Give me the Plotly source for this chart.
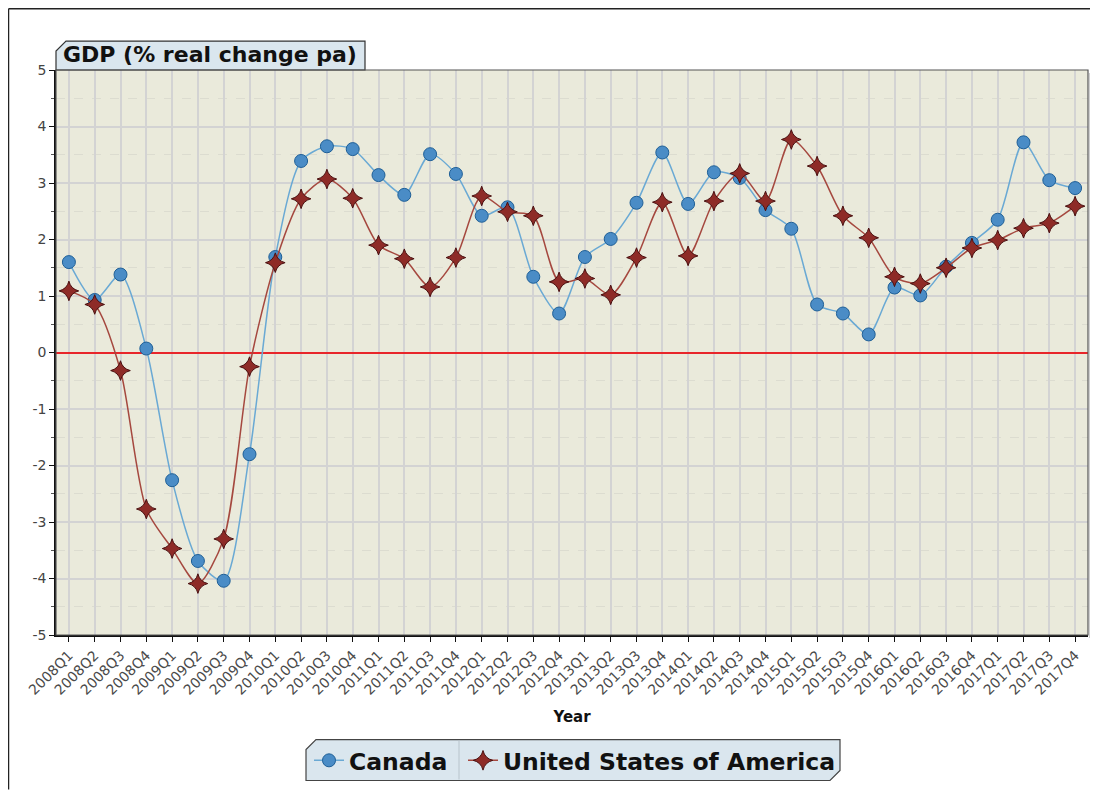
import plotly.graph_objects as go

quarters = [f"{y}Q{q}" for y in range(2008, 2018) for q in range(1, 5)]

canada = [1.60, 0.93, 1.38, 0.07, -2.26, -3.69, -4.04, -1.80,
          1.69, 3.39, 3.65, 3.60, 3.14, 2.79, 3.51, 3.16,
          2.42, 2.57, 1.34, 0.69, 1.69, 2.01, 2.65, 3.54,
          2.63, 3.19, 3.09, 2.52, 2.19, 0.85, 0.69, 0.32,
          1.15, 1.01, 1.52, 1.94, 2.35, 3.72, 3.05, 2.91]

usa = [1.09, 0.85, -0.32, -2.77, -3.47, -4.09, -3.30, -0.25,
       1.59, 2.72, 3.07, 2.73, 1.90, 1.66, 1.16, 1.68,
       2.77, 2.49, 2.42, 1.25, 1.31, 1.02, 1.68, 2.66,
       1.71, 2.68, 3.17, 2.68, 3.77, 3.30, 2.42, 2.03,
       1.34, 1.22, 1.50, 1.85, 1.99, 2.20, 2.29, 2.59]

series_names = ["Canada", "United States of America"]
y_ticks = [5, 4, 3, 2, 1, 0, -1, -2, -3, -4, -5]

OFF = 8  # page body margin
W, H = 1098 - OFF, 792 - OFF
L, R, T, B = 56 - OFF, 1088 - OFF, 70 - OFF, 637 - OFF
PW, PH = R - L, B - T


def px(x):
    """screen x pixel -> paper coordinate"""
    return (x - OFF - L) / PW


def py(y):
    """screen y pixel -> paper coordinate"""
    return (B - (y - OFF)) / PH


fig = go.Figure()
fig.add_trace(go.Scatter(
    x=quarters, y=canada, name=series_names[0], mode="lines+markers",
    line=dict(color="#6aa9d4", width=1.5, shape="spline", smoothing=0.75),
    marker=dict(symbol="circle", size=13, color="#4a8cc6",
                line=dict(color="#1f5f96", width=1)),
    legend="legend",
))
fig.add_trace(go.Scatter(
    x=quarters, y=usa, name=series_names[1], mode="lines+markers",
    line=dict(color="#a5483f", width=1.5, shape="spline", smoothing=0.75),
    marker=dict(symbol="star-diamond", size=14, color="#8e2b27",
                line=dict(color="#4a1010", width=1)),
    legend="legend2",
))

shapes = []
# outer frame (top and left)
shapes.append(dict(type="line", xref="paper", yref="paper",
                   x0=px(8.5), x1=px(1097), y0=py(8.5), y1=py(8.5),
                   line=dict(color="#222", width=1.5)))
shapes.append(dict(type="line", xref="paper", yref="paper",
                   x0=px(8.5), x1=px(8.5), y0=py(8.5), y1=py(792),
                   line=dict(color="#222", width=1.5)))
# soft shadow right/bottom of plot area
shapes.append(dict(type="line", xref="paper", yref="paper",
                   x0=px(1090.5), x1=px(1090.5), y0=py(73), y1=py(640),
                   line=dict(color="#cfcfcf", width=3)))
# title tab
tx0, tx1, ty0, ty1, c = 56, 365, 70, 41, 10
path = (f"M {px(tx0)} {py(ty0)} L {px(tx0)} {py(ty1 + c)} L {px(tx0 + c)} {py(ty1)} "
        f"L {px(tx1)} {py(ty1)} L {px(tx1)} {py(ty0)} Z")
shapes.append(dict(type="path", xref="paper", yref="paper", path=path,
                   fillcolor="#dae6ee", line=dict(color="#333", width=1.2)))
# legend box
lx0, lx1, ly0, ly1, c2 = 306, 840, 742, 783, 10
path2 = (f"M {px(lx0)} {py(ly1)} L {px(lx0)} {py(ly0 + c2)} L {px(lx0 + c2)} {py(ly0)} "
         f"L {px(lx1)} {py(ly0)} L {px(lx1)} {py(ly1 - c2)} L {px(lx1 - c2)} {py(ly1)} Z")
shapes.append(dict(type="path", xref="paper", yref="paper", path=path2,
                   fillcolor="#dae6ee", line=dict(color="#444", width=1.2)))
shapes.append(dict(type="line", xref="paper", yref="paper",
                   x0=px(459), x1=px(459), y0=py(743), y1=py(782),
                   line=dict(color="#b8c4cc", width=1)))

annotations = [
    dict(text="<b>GDP (% real change pa)</b>", xref="paper", yref="paper",
         x=px(61), y=py(54), xanchor="left", yanchor="middle", showarrow=False,
         font=dict(family="DejaVu Sans", size=22, color="#111")),
]

legend_font = dict(family="DejaVu Sans", size=23.5, color="#111", weight="bold")
fig.update_layout(
    width=W, height=H,
    margin=dict(l=L, r=W - R, t=T, b=H - B),
    paper_bgcolor="white",
    plot_bgcolor="#eaeadb",
    shapes=shapes,
    annotations=annotations,
    showlegend=True,
    legend=dict(orientation="h", x=px(309), y=py(763), xanchor="left", yanchor="middle",
                bgcolor="rgba(0,0,0,0)", borderwidth=0, font=legend_font, itemwidth=30),
    legend2=dict(orientation="h", x=px(463), y=py(763), xanchor="left", yanchor="middle",
                 bgcolor="rgba(0,0,0,0)", borderwidth=0, font=legend_font, itemwidth=30),
    font=dict(family="DejaVu Sans"),
)

fig.update_xaxes(
    type="category", categoryorder="array", categoryarray=quarters,
    range=[-0.5, len(quarters) - 0.5],
    showgrid=True, gridcolor="#d3d3d3", gridwidth=1.5,
    showline=True, linecolor="#111", linewidth=1.5, mirror=False,
    ticks="outside", ticklen=5, tickcolor="#111",
    tickangle=-45, tickfont=dict(size=14, color="#4a4a4a"),
    title=dict(text="<b>Year</b>", font=dict(size=15, color="#111"), standoff=15),
)
fig.update_yaxes(
    range=[-5, 5], tickmode="array", tickvals=y_ticks,
    ticktext=[str(v) for v in y_ticks],
    showgrid=True, gridcolor="#d3d3d3", gridwidth=1.5,
    zeroline=True, zerolinecolor="#e8262a", zerolinewidth=1.5,
    showline=True, linecolor="#111", linewidth=1.5,
    ticks="outside", ticklen=5, tickcolor="#111",
    tickfont=dict(size=14, color="#444"),
    minor=dict(tickvals=[v + 0.5 for v in y_ticks[1:]], ticks="outside", ticklen=3,
               tickcolor="#555", showgrid=True, gridcolor="#dcdcd0", griddash="dash",
               gridwidth=1),
)
# right / top border of plot area
fig.add_shape(type="rect", xref="paper", yref="paper", x0=0, x1=1, y0=0, y1=1,
              line=dict(color="#555", width=1.2), layer="above")

fig.write_html("out.html")
